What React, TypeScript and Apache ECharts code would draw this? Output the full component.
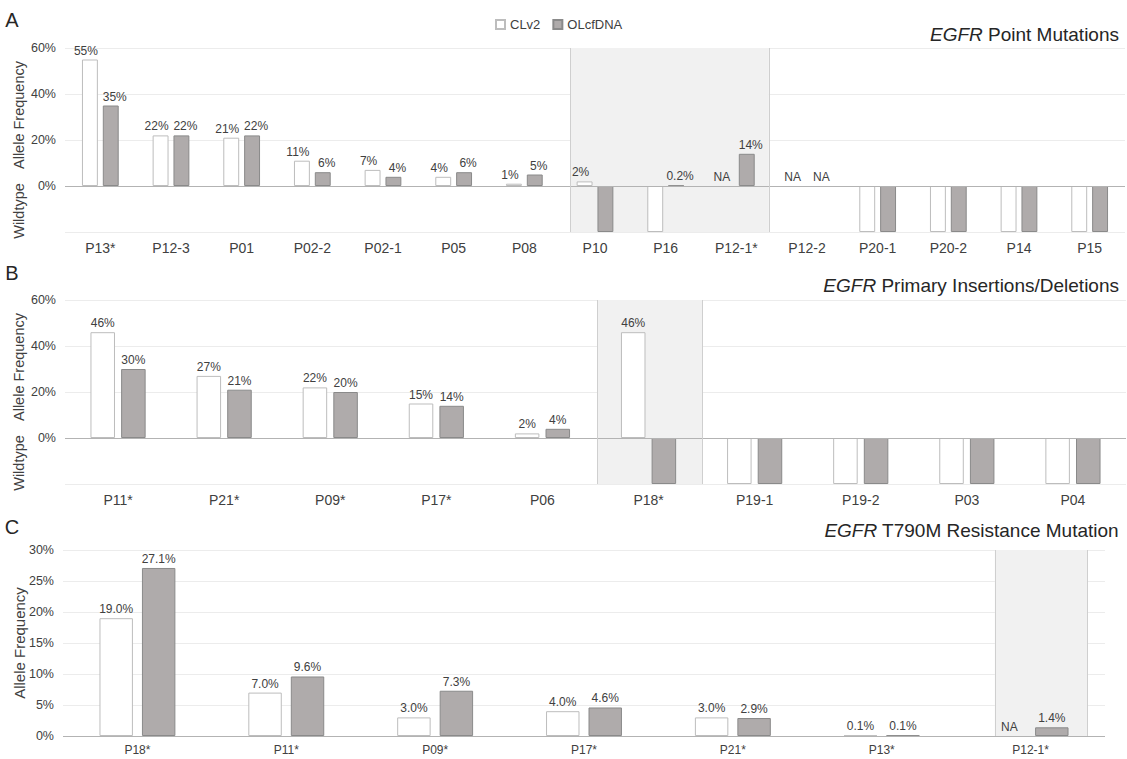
import React, { useEffect, useRef } from "react";
import * as echarts from "echarts";

// ---------- data ----------
const CATS_A = ["P13*", "P12-3", "P01", "P02-2", "P02-1", "P05", "P08", "P10", "P16", "P12-1*", "P12-2", "P20-1", "P20-2", "P14", "P15"];
const CLV2_A: (number | string)[] = [55, 22, 21, 11, 7, 4, 1, 2, "WT", "NA", "NA", "WT", "WT", "WT", "WT"];
const OL_A: (number | string)[] = [35, 22, 22, 6, 4, 6, 5, "WT", 0.2, 14, "NA", "WT", "WT", "WT", "WT"];

const CATS_B = ["P11*", "P21*", "P09*", "P17*", "P06", "P18*", "P19-1", "P19-2", "P03", "P04"];
const CLV2_B: (number | string)[] = [46, 27, 22, 15, 2, 46, "WT", "WT", "WT", "WT"];
const OL_B: (number | string)[] = [30, 21, 20, 14, 4, "WT", "WT", "WT", "WT", "WT"];

const CATS_C = ["P18*", "P11*", "P09*", "P17*", "P21*", "P13*", "P12-1*"];
const CLV2_C: (number | string)[] = [19.0, 7.0, 3.0, 4.0, 3.0, 0.1, "NA"];
const OL_C: (number | string)[] = [27.1, 9.6, 7.3, 4.6, 2.9, 0.1, 1.4];

const TICKS_AB = [-20, 0, 20, 40, 60];
const TICKS_C = [0, 5, 10, 15, 20, 25, 30];

const TITLES = ["Point Mutations", "Primary Insertions/Deletions", "T790M Resistance Mutation"];
const LETTERS = ["A", "B", "C"];

// ---------- style / layout ----------
const WILDTYPE = -20;
const FONT = "'Liberation Sans', Arial, sans-serif";
const TXT = "#404040";
const WHITE_STYLE = { color: "#ffffff", borderColor: "#bdbdbd", borderWidth: 1 };
const GRAY_STYLE = { color: "#afabab", borderColor: "#8a8a8a", borderWidth: 1 };

const GRIDS = [
  { left: 65, right: 2, top: 48, height: 184 },
  { left: 65, right: 1, top: 300, height: 184 },
  { left: 63, right: 22, top: 550, height: 186 },
];
// shaded spans in category-index units
const SHADES = [[7.15, 9.96], [5.02, 6.01], [6.26, 6.88]];
const BARS = [
  { barCategoryGap: "48%", barGap: "31%" },
  { barCategoryGap: "48%", barGap: "25%" },
  { barCategoryGap: "49%", barGap: "27%" },
];
const LABEL_SHIFT = [4, 0, 0];

function makeData(vals: (number | string)[]) {
  return vals.map((v) => {
    if (v === "WT") return { value: WILDTYPE, label: { show: false } };
    if (v === "NA")
      return {
        value: 0,
        itemStyle: { color: "transparent", borderWidth: 0, borderColor: "transparent" },
        label: { show: true, formatter: "NA" },
      };
    return { value: v as number };
  });
}

function fmt(decimals: boolean) {
  return (p: any) => {
    const v = p.value as number;
    if (decimals) return v.toFixed(1) + "%";
    return (v < 1 ? v.toFixed(1) : v.toFixed(0)) + "%";
  };
}

function vText(x: number, y: number, text: string, size: number) {
  return {
    type: "text",
    x,
    y,
    rotation: Math.PI / 2,
    style: {
      text,
      fill: TXT,
      font: `${size}px ${FONT}`,
      align: "center",
      verticalAlign: "middle",
      textAlign: "center",
      textVerticalAlign: "middle",
    },
  };
}

export default function App() {
  const ref = useRef<HTMLDivElement>(null);
  useEffect(() => {
    if (!ref.current) return;
    const chart = echarts.init(ref.current, null, { renderer: "svg" });
    const panels = [
      { cats: CATS_A, c: CLV2_A, o: OL_A, ticks: TICKS_AB, dec: false, catFont: 14, ww: true },
      { cats: CATS_B, c: CLV2_B, o: OL_B, ticks: TICKS_AB, dec: false, catFont: 14, ww: true },
      { cats: CATS_C, c: CLV2_C, o: OL_C, ticks: TICKS_C, dec: true, catFont: 12, ww: false },
    ];

    const xAxis: any[] = [];
    const yAxis: any[] = [];
    const series: any[] = [];
    const graphic: any[] = [];
    const title: any[] = [];

    panels.forEach((p, i) => {
      const ymin = p.ticks[0];
      const ymax = p.ticks[p.ticks.length - 1];
      const step = p.ticks[1] - p.ticks[0];
      xAxis.push({
        type: "category",
        gridIndex: i,
        data: p.cats,
        axisLine: { show: false, onZero: false },
        axisTick: { show: false },
        axisLabel: { color: TXT, fontSize: p.catFont, fontFamily: FONT, margin: i === 2 ? 8 : 9 },
        splitLine: { show: false },
      });
      yAxis.push({
        type: "value",
        gridIndex: i,
        min: ymin,
        max: ymax,
        interval: step,
        axisLine: { show: false },
        axisTick: { show: false },
        axisLabel: {
          color: TXT,
          fontSize: 12.5,
          fontFamily: FONT,
          margin: 9,
          formatter: (v: number) => (v >= 0 ? v + "%" : ""),
        },
        splitLine: { lineStyle: { color: "#ececec", width: 1 } },
      });
      const lbl = (dx: number) => ({
        show: true,
        position: "top",
        distance: 3,
        offset: [dx, 0],
        color: TXT,
        fontSize: 12,
        fontFamily: FONT,
        formatter: fmt(p.dec),
      });
      series.push({
        name: "CLv2",
        type: "bar",
        xAxisIndex: i,
        yAxisIndex: i,
        data: makeData(p.c),
        itemStyle: WHITE_STYLE,
        label: lbl(-LABEL_SHIFT[i]),
        z: 3,
        ...BARS[i],
        markLine: {
          silent: true,
          symbol: "none",
          label: { show: false },
          lineStyle: { color: "#b3b3b3", width: 1, type: "solid" },
          data: [{ yAxis: 0 }],
        },
      });
      series.push({
        name: "OLcfDNA",
        type: "bar",
        xAxisIndex: i,
        yAxisIndex: i,
        data: makeData(p.o),
        itemStyle: GRAY_STYLE,
        label: lbl(LABEL_SHIFT[i]),
        z: 3,
        ...BARS[i],
      });
      const [s0, s1] = SHADES[i];
      series.push({
        name: "shade" + i,
        type: "line",
        xAxisIndex: 3 + i,
        yAxisIndex: i,
        data: [[s0, 0]],
        symbol: "none",
        lineStyle: { opacity: 0 },
        silent: true,
        z: 1,
        markArea: {
          silent: true,
          itemStyle: { color: "#f1f1f1" },
          data: [[{ xAxis: s0, yAxis: ymax }, { xAxis: s1, yAxis: ymin }]],
        },
        markLine: {
          silent: true,
          symbol: "none",
          label: { show: false },
          lineStyle: { color: "#cfcfcf", width: 1, type: "solid" },
          data: [{ xAxis: s0 }, { xAxis: s1 }],
        },
      });

      const g = GRIDS[i];
      const span = ymax - ymin;
      const yOf = (v: number) => g.top + (g.height * (ymax - v)) / span;
      if (p.ww) {
        graphic.push(vText(19, yOf(ymax / 2) - 2, "Allele Frequency", 14.5));
        graphic.push(vText(19, yOf(ymin / 2) + 2, "Wildtype", 14.5));
      } else {
        graphic.push(vText(19, yOf((ymax + ymin) / 2), "Allele Frequency", 15));
      }
      graphic.push({
        type: "text",
        x: 12,
        y: [20, 273, 527][i],
        style: {
          text: LETTERS[i],
          fill: "#262626",
          font: `20px ${FONT}`,
          align: "center",
          verticalAlign: "middle",
          textAlign: "center",
          textVerticalAlign: "middle",
        },
      });
      title.push({
        text: "{i|EGFR} " + TITLES[i],
        right: 3,
        top: [20, 271, 516][i],
        textStyle: {
          fontSize: 19,
          fontWeight: "normal",
          color: "#262626",
          fontFamily: FONT,
          rich: { i: { fontStyle: "italic", fontSize: 19, color: "#262626", fontFamily: FONT } },
        },
      });
    });

    panels.forEach((p, i) => {
      xAxis.push({
        type: "value",
        gridIndex: i,
        min: 0,
        max: p.cats.length,
        show: false,
        splitLine: { show: false },
      });
    });

    chart.setOption({
      animation: false,
      backgroundColor: "#ffffff",
      textStyle: { fontFamily: FONT },
      title,
      legend: {
        data: ["CLv2", "OLcfDNA"],
        left: 490,
        top: 13,
        icon: "rect",
        itemWidth: 9,
        itemHeight: 9,
        itemGap: 12,
        textStyle: { color: TXT, fontSize: 13, fontFamily: FONT },
        selectedMode: false,
      },
      grid: GRIDS.map((g) => ({ ...g, containLabel: false })),
      xAxis,
      yAxis,
      series,
      graphic,
    });
    return () => chart.dispose();
  }, []);
  return (
    <div
      ref={ref}
      style={{ position: "fixed", left: 0, top: 0, width: 1127, height: 759, background: "#fff" }}
    />
  );
}
